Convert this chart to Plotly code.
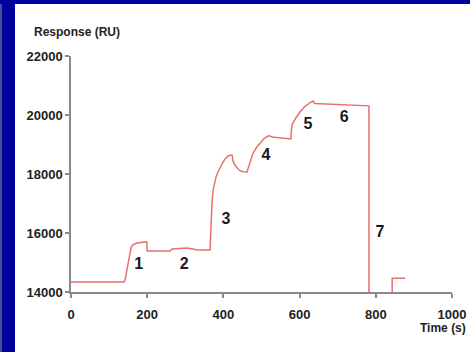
import plotly.graph_objects as go

# Sensorgram data (time in s, response in RU)
time_s = [0, 139, 142, 146, 150, 154, 158, 163, 173, 194, 199,
          200, 202, 260, 265, 304, 320, 331, 365,
          366, 368, 370, 373, 377, 381, 386, 392, 399, 405, 412, 418, 423,
          425, 429, 436, 443, 451, 462,
          465, 470, 478, 486, 496, 506, 517, 522, 528, 549, 577,
          578, 580, 583, 590, 601, 613, 627, 635, 640, 780, 782,
          782, 843, 843, 877]
response_ru = [14340, 14340, 14420, 14700, 15085, 15350, 15520, 15600, 15660, 15695, 15700,
               15390, 15390, 15390, 15458, 15490, 15460, 15424, 15424,
               15800, 16500, 17000, 17458, 17750, 17920, 18068, 18250, 18407, 18520, 18610, 18635, 18644,
               18450, 18330, 18204, 18120, 18075, 18068,
               18200, 18373, 18712, 18880, 19051, 19190, 19288, 19290, 19254, 19221, 19187,
               19400, 19661, 19729, 19900, 20102, 20280, 20407, 20475, 20390, 20320, 20310,
               13800, 13800, 14470, 14470]

label_text = ["1", "2", "3", "4", "5", "6", "7"]
label_t = [178, 297, 407, 512, 622, 717, 811]
label_r = [14930, 14930, 16440, 18610, 19650, 19900, 16000]

x_ticks = [0, 200, 400, 600, 800, 1000]
y_ticks = [14000, 16000, 18000, 20000, 22000]

FONT = "Liberation Sans, Arial, sans-serif"
TXT = "#222222"
AX = "#8a8a8a"
BLUE = "#00009c"

fig = go.Figure()
fig.add_trace(go.Scatter(x=time_s, y=response_ru, mode="lines",
                         line=dict(color="#e8706a", width=1.5), showlegend=False,
                         hoverinfo="skip"))
fig.add_trace(go.Scatter(x=label_t, y=label_r, mode="text", text=label_text,
                         textfont=dict(family=FONT, size=16, color="#1a1a1a", weight="bold"),
                         showlegend=False, hoverinfo="skip"))

W, H = 470, 352
ml, mr, mt, mb = 71, 18, 56, 60
pw, ph = W - ml - mr, H - mt - mb

def px_x(px):
    return (px - ml) / pw

def px_y(py):
    return (H - mb - py) / ph

tick_common = dict(showgrid=False, zeroline=False, automargin=False,
                   ticklen=4, tickwidth=1.5, tickcolor=AX)

fig.update_layout(
    width=W, height=H,
    margin=dict(l=ml, r=mr, t=mt, b=mb, pad=0, autoexpand=False),
    paper_bgcolor="white", plot_bgcolor="white",
    font=dict(family=FONT, size=13, color=TXT),
    xaxis=dict(range=[0, 1000], tickvals=x_ticks, ticktext=[str(v) for v in x_ticks],
               showline=True, linecolor=AX, linewidth=1.5, ticks="outside",
               ticklabelstandoff=6,
               tickfont=dict(family=FONT, size=13, color=TXT, weight="bold"), **tick_common),
    yaxis=dict(range=[14000, 22000], tickvals=y_ticks, ticktext=[str(v) for v in y_ticks],
               showline=True, linecolor=AX, linewidth=1.5, ticks="outside",
               tickfont=dict(family=FONT, size=13, color=TXT, weight="bold"), **tick_common),
    xaxis2=dict(range=[0, 1000], tickvals=x_ticks, overlaying="x", anchor="y2",
                showticklabels=False, showline=False, ticks="inside", **tick_common),
    yaxis2=dict(range=[14000, 22000], tickvals=y_ticks, overlaying="y", anchor="x2",
                showticklabels=False, showline=False, ticks="inside", **tick_common),
    annotations=[
        dict(text="Response (RU)", xref="paper", yref="paper", x=px_x(32), y=px_y(32),
             xanchor="left", yanchor="middle", showarrow=False,
             font=dict(family=FONT, size=12, color=TXT, weight="bold")),
        dict(text="Time (s)", xref="paper", yref="paper", x=px_x(468), y=px_y(328),
             xanchor="right", yanchor="middle", showarrow=False,
             font=dict(family=FONT, size=12, color=TXT, weight="bold")),
    ],
    shapes=[
        dict(type="rect", xref="paper", yref="paper", x0=px_x(0), x1=px_x(15),
             y0=px_y(H), y1=px_y(0), fillcolor=BLUE, line=dict(width=0), layer="above"),
        dict(type="rect", xref="paper", yref="paper", x0=px_x(0), x1=px_x(W),
             y0=px_y(4), y1=px_y(0), fillcolor=BLUE, line=dict(width=0), layer="above"),
        dict(type="line", xref="paper", yref="paper", x0=px_x(1), x1=px_x(1),
             y0=px_y(H), y1=px_y(4), line=dict(color="#9a9a9a", width=1), layer="above"),
    ],
)

fig.write_html("out.html")
